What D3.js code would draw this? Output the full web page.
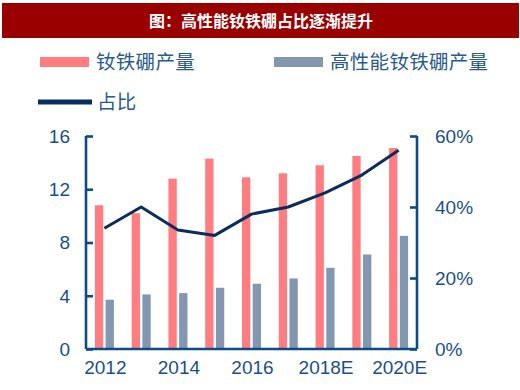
<!DOCTYPE html>
<html>
<head>
<meta charset="utf-8">
<script src="https://cdn.jsdelivr.net/npm/d3@7"></script>
<style>
  body { margin: 0; background: #fff; }
  text { font-family: "Liberation Sans", Arial, sans-serif; }
  .cjk { font-family: "Noto Sans CJK SC", sans-serif; }
</style>
</head>
<body>
<div id="graph"></div>
<script>
var years = ["2012", "2013", "2014", "2015", "2016", "2017", "2018E", "2019E", "2020E"];
var xLabels = ["2012", "2014", "2016", "2018E", "2020E"];
var ndfeb = [10.8, 10.2, 12.8, 14.3, 12.9, 13.2, 13.8, 14.5, 15.1];
var highPerf = [3.7, 4.1, 4.2, 4.6, 4.9, 5.3, 6.1, 7.1, 8.5];
var share = [34, 40, 33.5, 32, 38, 40, 44, 49, 56];
var leftTicks = [0, 4, 8, 12, 16];
var rightTicks = [0, 20, 40, 60];

var axisColor = "#0d4a8a";
var labelColor = "#1a4f8c";

var svg = d3.select("#graph").append("svg").attr("width", 520).attr("height", 390);

// title bar
svg.append("rect").attr("x", 2).attr("y", 3).attr("width", 517).attr("height", 35).attr("fill", "#990000");
svg.append("text").attr("class", "cjk")
  .attr("x", 261).attr("y", 21).attr("dy", "0.35em")
  .attr("text-anchor", "middle").attr("fill", "#fff")
  .attr("font-size", 16).attr("font-weight", "bold")
  .text("图：高性能钕铁硼占比逐渐提升");

// legend
var legend = [
  { name: "钕铁硼产量", color: "#ff7c80", x: 40, y: 62, type: "bar" },
  { name: "高性能钕铁硼产量", color: "#8497b0", x: 274, y: 62, type: "bar" },
  { name: "占比", color: "#0b2d5b", x: 38, y: 102, type: "line" },
];
legend.forEach(function (d) {
  if (d.type == "bar") {
    svg.append("rect").attr("x", d.x).attr("y", d.y - 5).attr("width", 49).attr("height", 10).attr("fill", d.color);
  } else {
    svg.append("rect").attr("x", d.x).attr("y", d.y - 2.5).attr("width", 54).attr("height", 5).attr("fill", d.color);
  }
  svg.append("text").attr("class", "cjk")
    .attr("x", d.x + (d.type == "bar" ? 56 : 59)).attr("y", d.y).attr("dy", "0.36em")
    .attr("font-size", 19.5).attr("fill", "#2a5b8c").attr("letter-spacing", 0.3)
    .text(d.name);
});

// scales
var x = d3.scaleBand().domain(years).range([86, 417]);
var yL = d3.scaleLinear().domain([0, 16]).range([349, 136]);
var yR = d3.scaleLinear().domain([0, 60]).range([349, 136]);
var barW = 8.3, gap = 2.4;

var bars = svg.append("g");
bars.selectAll("rect.a").data(ndfeb).join("rect").attr("class", "a")
  .attr("x", function (d, i) { return x(years[i]) + x.bandwidth() / 2 - gap / 2 - barW; })
  .attr("y", function (d) { return yL(d); })
  .attr("width", barW)
  .attr("height", function (d) { return yL(0) - yL(d); })
  .attr("fill", "#ff7c80");
bars.selectAll("rect.b").data(highPerf).join("rect").attr("class", "b")
  .attr("x", function (d, i) { return x(years[i]) + x.bandwidth() / 2 + gap / 2; })
  .attr("y", function (d) { return yL(d); })
  .attr("width", barW)
  .attr("height", function (d) { return yL(0) - yL(d); })
  .attr("fill", "#8497b0");

// share line
var line = d3.line()
  .x(function (d, i) { return x(years[i]) + x.bandwidth() / 2; })
  .y(function (d) { return yR(d); });
svg.append("path").attr("d", line(share))
  .attr("fill", "none").attr("stroke", "#0b2d5b").attr("stroke-width", 3)
  .attr("stroke-linejoin", "round");

// axes
var leftAxis = svg.append("g").attr("transform", "translate(86,0)")
  .call(d3.axisRight(yL).tickValues(leftTicks).tickSize(7).tickFormat(""));
var rightAxis = svg.append("g").attr("transform", "translate(417,0)")
  .call(d3.axisLeft(yR).tickValues(rightTicks).tickSize(7).tickFormat(""));
var bottomAxis = svg.append("g").attr("transform", "translate(0,349)")
  .call(d3.axisBottom(x).tickSize(0).tickFormat(""));
[leftAxis, rightAxis, bottomAxis].forEach(function (g) {
  g.selectAll("path.domain").attr("stroke", axisColor).attr("stroke-width", 2.6);
  g.selectAll("line").attr("stroke", axisColor).attr("stroke-width", 2.6);
});
bottomAxis.select("path.domain").attr("d", "M86,0H417");
leftAxis.select("path.domain").attr("d", "M0,136V349");
rightAxis.select("path.domain").attr("d", "M0,136V349");

// tick labels
svg.selectAll("text.yl").data(leftTicks).join("text").attr("class", "yl")
  .attr("x", 70).attr("y", function (d) { return yL(d); }).attr("dy", "0.36em")
  .attr("text-anchor", "end").attr("font-size", 19).attr("fill", labelColor)
  .text(function (d) { return d; });
svg.selectAll("text.yr").data(rightTicks).join("text").attr("class", "yr")
  .attr("x", 435).attr("y", function (d) { return yR(d); }).attr("dy", "0.36em")
  .attr("font-size", 19).attr("fill", labelColor)
  .text(function (d) { return d + "%"; });
svg.selectAll("text.xl").data(xLabels).join("text").attr("class", "xl")
  .attr("x", function (d) { return x(d) + x.bandwidth() / 2 + 1; }).attr("y", 374)
  .attr("text-anchor", "middle").attr("font-size", 19).attr("fill", labelColor)
  .text(function (d) { return d; });
</script>
</body>
</html>
